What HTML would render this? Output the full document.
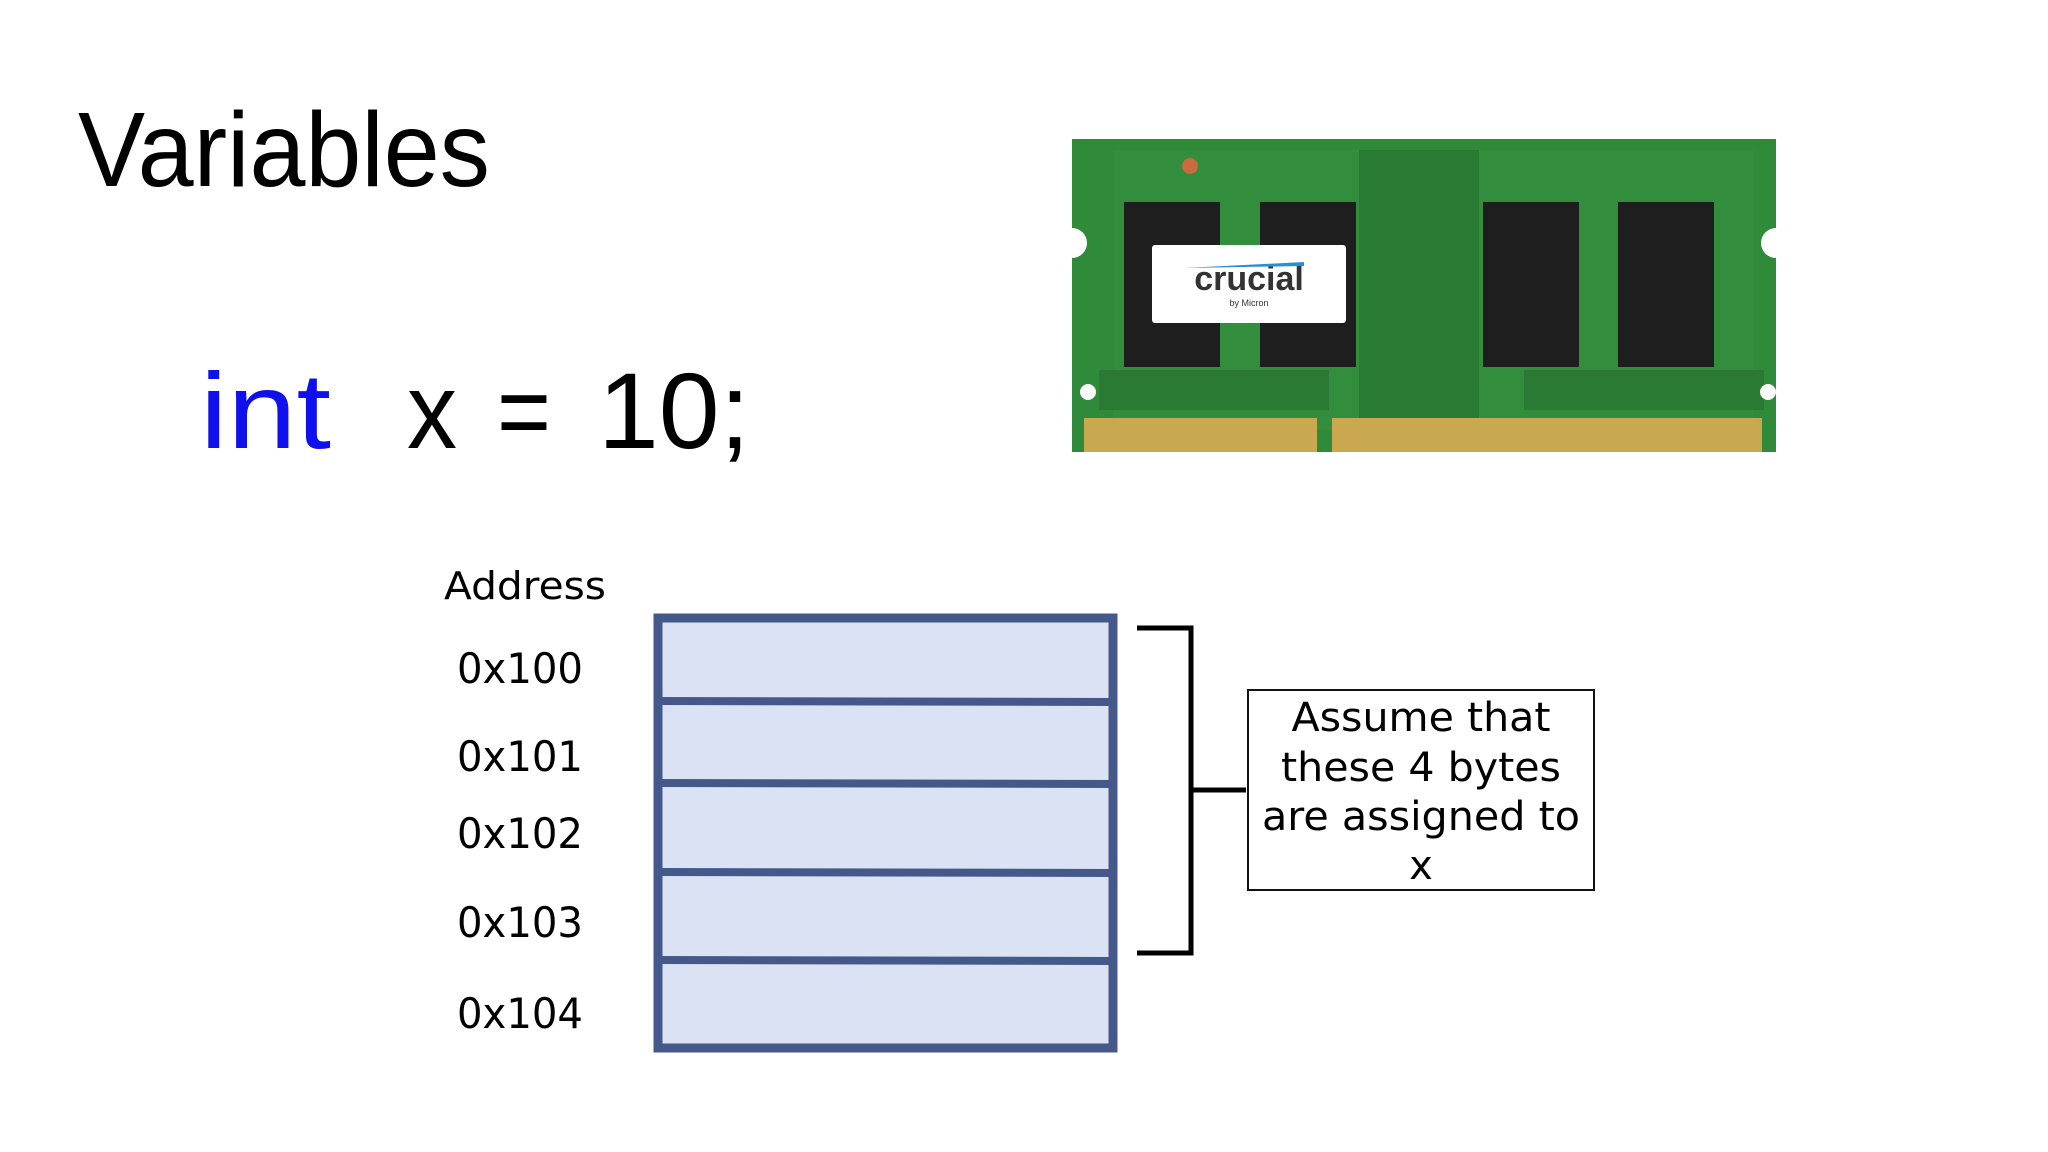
<!DOCTYPE html>
<html><head><meta charset="utf-8"><style>html,body{margin:0;padding:0;background:#fff}svg{display:block}</style></head>
<body>
<svg width="2048" height="1152" viewBox="0 0 2048 1152" xmlns="http://www.w3.org/2000/svg">
<rect width="2048" height="1152" fill="#fff"/>
<text x="78" y="186" font-family="Liberation Sans, sans-serif" font-size="106" textLength="412" lengthAdjust="spacingAndGlyphs" fill="#000">Variables</text>
<g font-family="Liberation Sans, sans-serif" font-size="108">
<text x="200" y="448" fill="#1010ee" textLength="131" lengthAdjust="spacingAndGlyphs">int</text>
<text x="407" y="448" fill="#000" textLength="50" lengthAdjust="spacingAndGlyphs">x</text>
<text x="497" y="448" fill="#000" textLength="54" lengthAdjust="spacingAndGlyphs">=</text>
<text x="598" y="448" fill="#000" textLength="152" lengthAdjust="spacingAndGlyphs">10;</text>
</g>
<!-- RAM -->
<g transform="translate(-6,0)">
<path d="M1078 139 H1782 V228 a14 14 0 0 0 0 30 V452 H1078 V258 a14 14 0 0 0 0 -30 Z" fill="#2f8a3a"/>
<rect x="1120" y="150" width="640" height="280" fill="#35903f" opacity="0.6"/>
<rect x="1365" y="150" width="120" height="270" fill="#2a7c34"/>
<rect x="1130" y="202" width="96" height="165" fill="#1e1e1e"/>
<rect x="1266" y="202" width="96" height="165" fill="#1e1e1e"/>
<rect x="1489" y="202" width="96" height="165" fill="#1e1e1e"/>
<rect x="1624" y="202" width="96" height="165" fill="#1e1e1e"/>
<rect x="1158" y="245" width="194" height="78" rx="3" fill="#fff"/>
<text x="1255" y="290" text-anchor="middle" font-family="Liberation Sans, sans-serif" font-weight="bold" font-size="34" fill="#333">crucial</text>
<path d="M1190 268 L1310 262 L1310 266 Z" fill="#2a8fd0"/>
<text x="1255" y="306" text-anchor="middle" font-family="Liberation Sans, sans-serif" font-size="9" fill="#333">by Micron</text>
<rect x="1105" y="370" width="230" height="40" fill="#2a7a33"/>
<rect x="1530" y="370" width="240" height="40" fill="#2a7a33"/>
<rect x="1090" y="418" width="233" height="34" fill="#c9a850"/>
<rect x="1338" y="418" width="430" height="34" fill="#c9a850"/>
<circle cx="1196" cy="166" r="8" fill="#c96b3a"/>
<circle cx="1094" cy="392" r="8" fill="#fff"/>
<circle cx="1774" cy="392" r="8" fill="#fff"/>
</g>
<!-- memory table -->
<g font-family="DejaVu Sans, sans-serif" fill="#000">
<text x="444" y="599" font-size="38" textLength="162" lengthAdjust="spacingAndGlyphs">Address</text>
<text x="457" y="683" font-size="42" textLength="126" lengthAdjust="spacingAndGlyphs">0x100</text>
<text x="457" y="771" font-size="42" textLength="126" lengthAdjust="spacingAndGlyphs">0x101</text>
<text x="457" y="848" font-size="42" textLength="126" lengthAdjust="spacingAndGlyphs">0x102</text>
<text x="457" y="937" font-size="42" textLength="126" lengthAdjust="spacingAndGlyphs">0x103</text>
<text x="457" y="1028" font-size="42" textLength="126" lengthAdjust="spacingAndGlyphs">0x104</text>
</g>
<rect x="658" y="618" width="455" height="430" fill="#dae2f4" stroke="#44598a" stroke-width="9"/>
<g stroke="#44598a" stroke-width="8">
<line x1="658" y1="701" x2="1113" y2="702"/>
<line x1="658" y1="783" x2="1113" y2="784"/>
<line x1="658" y1="872" x2="1113" y2="873"/>
<line x1="658" y1="960" x2="1113" y2="961"/>
</g>
<!-- bracket -->
<path d="M1137 628 H1191 V953 H1137 M1191 790 H1246" fill="none" stroke="#000" stroke-width="5"/>
<rect x="1248" y="690" width="346" height="200" fill="#fff" stroke="#111" stroke-width="2"/>
<g font-family="DejaVu Sans, sans-serif" font-size="40" fill="#000" text-anchor="middle">
<text x="1421" y="731" textLength="259" lengthAdjust="spacingAndGlyphs">Assume that</text>
<text x="1421" y="781" textLength="280" lengthAdjust="spacingAndGlyphs">these 4 bytes</text>
<text x="1421" y="830" textLength="318" lengthAdjust="spacingAndGlyphs">are assigned to</text>
<text x="1421" y="879">x</text>
</g>
</svg>
</body></html>
